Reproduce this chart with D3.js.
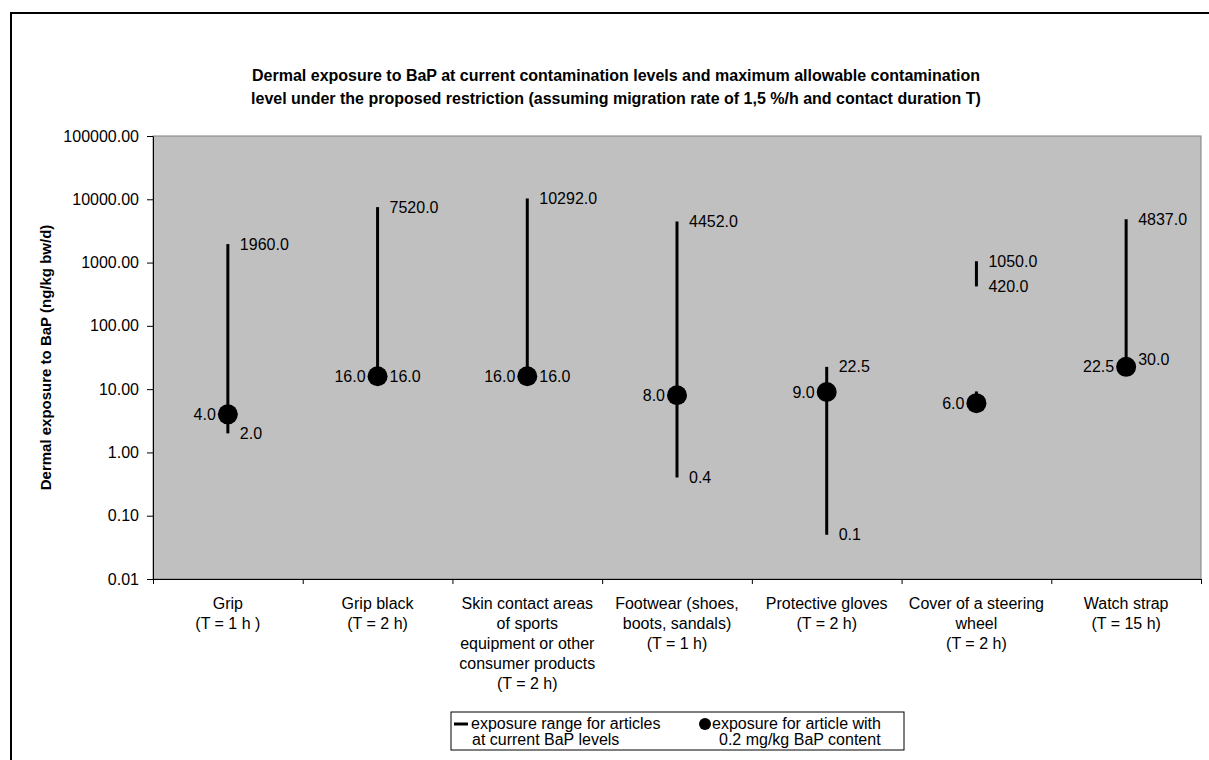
<!DOCTYPE html>
<html>
  <head>
    <title> BaP dermal exposure </title>
    <script src = "https://d3js.org/d3.v7.min.js" charset = "utf-8"></script>
    <style>
      body { margin: 0; background: #fff; }
      text { font-family: "Liberation Sans", Arial, sans-serif; fill: #000; }
    </style>
  </head>

  <body>
    <script>
      // data
      var categories = [
        ["Grip", "(T = 1 h )"],
        ["Grip black", "(T = 2 h)"],
        ["Skin contact areas", "of sports", "equipment or other", "consumer products", "(T = 2 h)"],
        ["Footwear (shoes,", "boots, sandals)", "(T = 1 h)"],
        ["Protective gloves", "(T = 2 h)"],
        ["Cover of a steering", "wheel", "(T = 2 h)"],
        ["Watch strap", "(T = 15 h)"]
      ];
      var rangeHigh = [1960, 7520, 10292, 4452, 22.5, 1050, 4837];
      var rangeLow = [2, 16, 16, 0.4, 0.05, 420, 30];
      var dotValue = [4, 16, 16, 8, 9, 6, 22.5];
      // small stub drawn above the steering wheel dot
      var stubLow = [null, null, null, null, null, 6, null];
      var stubHigh = [null, null, null, null, null, 9.2, null];
      var yTicks = [0.01, 0.1, 1, 10, 100, 1000, 10000, 100000];

      var width = 1209;
      var height = 760;
      var plotLeft = 153, plotRight = 1201, plotTop = 136, plotBottom = 579;

      var svg = d3.select("body")
        .append("svg")
        .attr("width", width)
        .attr("height", height);

      // outer frame
      svg.append("rect")
        .attr("x", 11).attr("y", 13)
        .attr("width", 1205).attr("height", 800)
        .attr("fill", "none")
        .attr("stroke", "#000")
        .attr("stroke-width", 2);

      // title
      var title = svg.append("text")
        .attr("text-anchor", "middle")
        .attr("font-size", 16)
        .attr("font-weight", "bold");
      title.append("tspan").attr("x", 616).attr("y", 81)
        .text("Dermal exposure to BaP at current contamination levels and maximum allowable contamination");
      title.append("tspan").attr("x", 616).attr("y", 104)
        .text("level under the proposed restriction (assuming migration rate of 1,5 %/h and contact duration T)");

      var x = d3.scaleBand()
        .domain(d3.range(categories.length))
        .range([plotLeft, plotRight]);

      var xEdges = d3.scaleLinear()
        .domain([0, categories.length])
        .range([plotLeft, plotRight]);

      var y = d3.scaleLog()
        .domain([0.01, 100000])
        .range([plotBottom, plotTop]);

      // plot area
      svg.append("rect")
        .attr("x", plotLeft).attr("y", plotTop)
        .attr("width", plotRight - plotLeft).attr("height", plotBottom - plotTop)
        .attr("fill", "#c0c0c0")
        .attr("stroke", "#808080")
        .attr("stroke-width", 1);

      // y axis
      var yAxis = svg.append("g")
        .attr("transform", "translate(" + plotLeft + ",0)")
        .call(d3.axisLeft(y).tickValues(yTicks).tickFormat(d3.format(".2f")).tickSize(6).tickSizeOuter(0).tickPadding(8));
      yAxis.selectAll("text").attr("font-size", 16).attr("font-family", null);
      yAxis.attr("font-family", null);
      yAxis.selectAll("line, path").attr("stroke", "#000");

      // x axis (ticks at category edges)
      var xAxis = svg.append("g")
        .attr("transform", "translate(0," + plotBottom + ")")
        .call(d3.axisBottom(xEdges).ticks(categories.length).tickFormat("").tickSize(5).tickSizeOuter(0));
      xAxis.selectAll("line, path").attr("stroke", "#000");

      // category labels
      var catLabels = svg.append("g").selectAll("text")
        .data(categories)
        .enter()
        .append("text")
        .attr("text-anchor", "middle")
        .attr("font-size", 16);
      catLabels.each(function(lines, i){
        d3.select(this).selectAll("tspan")
          .data(lines)
          .enter()
          .append("tspan")
          .attr("x", x(i) + x.bandwidth() / 2)
          .attr("y", function(d, j){ return 609 + j * 20; })
          .text(function(d){ return d; });
      });

      // y axis title
      svg.append("text")
        .attr("transform", "translate(51," + (plotTop + plotBottom) / 2 + ") rotate(-90)")
        .attr("text-anchor", "middle")
        .attr("font-size", 15)
        .attr("font-weight", "bold")
        .text("Dermal exposure to BaP (ng/kg bw/d)");

      var cx = function(i){ return x(i) + x.bandwidth() / 2; };
      var fmt = d3.format(".1f");
      var idx = d3.range(categories.length);

      // range lines
      svg.append("g").selectAll("line")
        .data(idx)
        .enter()
        .append("line")
        .attr("x1", cx).attr("x2", cx)
        .attr("y1", function(i){ return y(rangeLow[i]); })
        .attr("y2", function(i){ return y(rangeHigh[i]); })
        .attr("stroke", "#000")
        .attr("stroke-width", 3);

      svg.append("g").selectAll("line")
        .data(idx.filter(function(i){ return stubLow[i] != null; }))
        .enter()
        .append("line")
        .attr("x1", cx).attr("x2", cx)
        .attr("y1", function(i){ return y(stubLow[i]); })
        .attr("y2", function(i){ return y(stubHigh[i]); })
        .attr("stroke", "#000")
        .attr("stroke-width", 3);

      // dots
      svg.append("g").selectAll("circle")
        .data(idx)
        .enter()
        .append("circle")
        .attr("cx", cx)
        .attr("cy", function(i){ return y(dotValue[i]); })
        .attr("r", 10)
        .attr("fill", "#000");

      // labels
      var labels = svg.append("g").attr("font-size", 16);
      labels.selectAll(".hi")
        .data(idx).enter().append("text")
        .attr("x", function(i){ return cx(i) + 12; })
        .attr("y", function(i){ return y(rangeHigh[i]); })
        .attr("dy", "0.35em")
        .text(function(i){ return fmt(rangeHigh[i]); });
      labels.selectAll(".lo")
        .data(idx).enter().append("text")
        .attr("x", function(i){ return cx(i) + 12; })
        .attr("y", function(i){ return y(rangeLow[i]); })
        .attr("dy", "0.35em")
        .text(function(i){ return fmt(rangeLow[i]); });
      labels.selectAll(".dot")
        .data(idx).enter().append("text")
        .attr("x", function(i){ return cx(i) - 12; })
        .attr("y", function(i){ return y(dotValue[i]); })
        .attr("dy", "0.35em")
        .attr("text-anchor", "end")
        .text(function(i){ return fmt(dotValue[i]); });

      // legend
      var legend = svg.append("g");
      legend.append("rect")
        .attr("x", 451).attr("y", 712)
        .attr("width", 453).attr("height", 38)
        .attr("fill", "#fff")
        .attr("stroke", "#000")
        .attr("stroke-width", 1);
      legend.append("line")
        .attr("x1", 454).attr("x2", 468)
        .attr("y1", 724).attr("y2", 724)
        .attr("stroke", "#000")
        .attr("stroke-width", 3);
      var lt1 = legend.append("text").attr("font-size", 16);
      lt1.append("tspan").attr("x", 471).attr("y", 729).text("exposure range for articles");
      lt1.append("tspan").attr("x", 472).attr("y", 745).text("at current BaP levels");
      legend.append("circle")
        .attr("cx", 705).attr("cy", 724).attr("r", 6)
        .attr("fill", "#000");
      var lt2 = legend.append("text").attr("font-size", 16);
      lt2.append("tspan").attr("x", 712).attr("y", 729).text("exposure for article with");
      lt2.append("tspan").attr("x", 719).attr("y", 745).text("0.2 mg/kg BaP content");
    </script>
  </body>
</html>
